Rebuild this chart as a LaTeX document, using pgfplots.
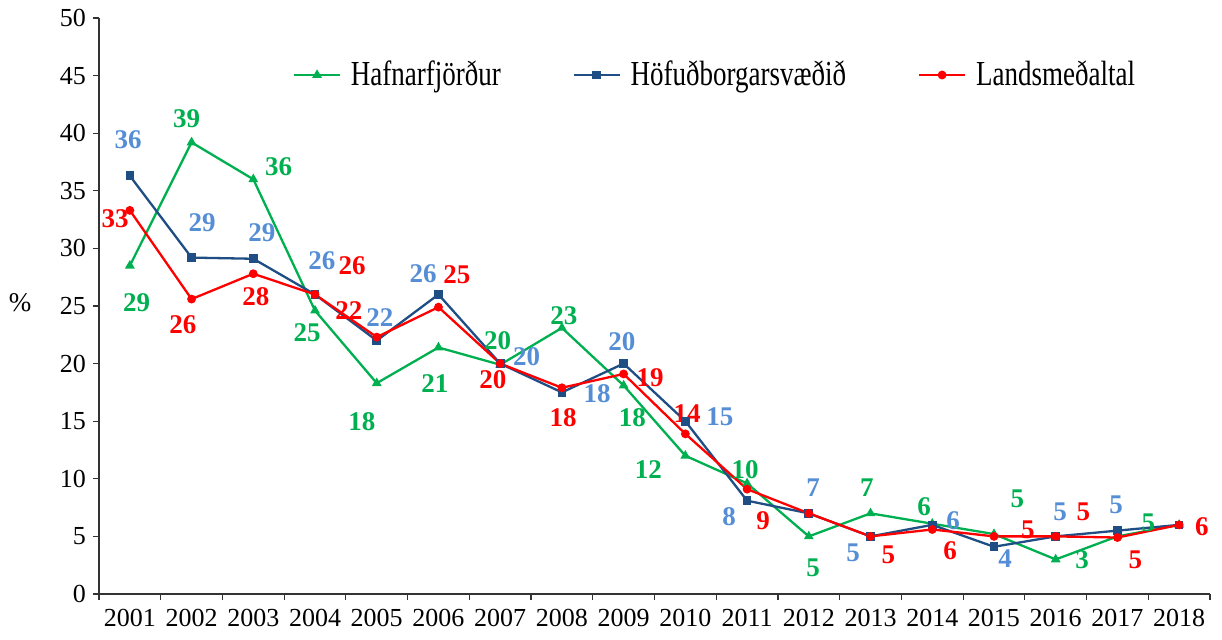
\documentclass[border=0pt]{standalone}
\usepackage{fontspec}
\setmainfont{Liberation Serif}
\usepackage{pgfplots}
\pgfplotsset{compat=1.18}

\definecolor{hafgreen}{HTML}{00B050}
\definecolor{hofblue}{HTML}{1F4E84}
\definecolor{hoflab}{HTML}{558ED5}
\definecolor{landred}{HTML}{FF0000}

\begin{document}
\begin{tikzpicture}
\begin{axis}[
    scale only axis,
    width=555.5pt, height=288pt,
    anchor=south west, at={(0,0)},
    xmin=0.5, xmax=18.5,
    ymin=0, ymax=50,
    axis lines*=left,
    axis line style={black!80, line width=0.6pt},
    tick align=outside,
    tick style={black!80, line width=0.6pt},
    major tick length=3pt, minor tick length=3pt,
    xtick={1,...,18},
    xticklabels={2001,2002,2003,2004,2005,2006,2007,2008,2009,2010,2011,2012,2013,2014,2015,2016,2017,2018},
    major x tick style={draw=none},
    minor xtick={0.5,1.5,...,18.5},
    ytick={0,5,...,50},
    /pgf/number format/assume math mode=true,
    ticklabel style={font=\fontsize{13}{15}\selectfont},
    xticklabel style={yshift=-1pt},
    ylabel={\%},
    every axis y label/.style={at={(axis description cs:-0.071,0.505)}, anchor=center,
        font=\fontsize{13.5}{15}\selectfont},
    clip=false,
    legend columns=3,
    legend style={draw=none, fill=none, at={(axis description cs:0.169,0.901)}, anchor=west,
        font=\fontsize{13.5}{15}\selectfont,
        /tikz/every odd column/.append style={column sep=3pt},
        /tikz/every even column/.append style={column sep=34pt}},
    legend image code/.code={
        \draw[#1, mark repeat=2, mark phase=2] plot coordinates {(0cm,0cm) (0.4cm,0cm) (0.8cm,0cm)};
    },
]
\addplot[hafgreen, line width=1.15pt, mark=triangle*, mark size=1.7pt] coordinates {
(1,28.5) (2,39.2) (3,36.0) (4,24.6) (5,18.3) (6,21.4) (7,19.9) (8,23.1) (9,18.1)
(10,12.0) (11,9.6) (12,5.0) (13,7.0) (14,6.1) (15,5.2) (16,3.0) (17,5.0) (18,6.0)
};
\addlegendentry{\scalebox{1}[1.3]{Hafnarfjörður}}
\addplot[hofblue, line width=1.15pt, mark=square*, mark size=1.6pt] coordinates {
(1,36.3) (2,29.2) (3,29.1) (4,26.0) (5,22.0) (6,26.0) (7,20.0) (8,17.5) (9,20.0)
(10,15.0) (11,8.1) (12,7.0) (13,5.0) (14,6.0) (15,4.1) (16,5.0) (17,5.5) (18,6.0)
};
\addlegendentry{\scalebox{1}[1.3]{Höfuðborgarsvæðið}}
\addplot[landred, line width=1.15pt, mark=*, mark size=1.6pt] coordinates {
(1,33.3) (2,25.6) (3,27.8) (4,26.0) (5,22.3) (6,24.9) (7,20.0) (8,17.9) (9,19.1)
(10,13.9) (11,9.1) (12,7.0) (13,5.0) (14,5.6) (15,5.0) (16,5.0) (17,4.9) (18,6.0)
};
\addlegendentry{\scalebox{1}[1.3]{Landsmeðaltal}}

% data labels, placed where the reference has them
\begin{scope}[font=\fontsize{13.5}{15}\selectfont\bfseries, text=hafgreen]
\node at (axis cs:1.11,25.3) {29};
\node at (axis cs:1.92,41.3) {39};
\node at (axis cs:3.41,37.1) {36};
\node at (axis cs:3.87,22.7) {25};
\node at (axis cs:4.76,15.0) {18};
\node at (axis cs:5.94,18.3) {21};
\node at (axis cs:6.96,22.0) {20};
\node at (axis cs:8.03,24.2) {23};
\node at (axis cs:9.14,15.3) {18};
\node at (axis cs:9.40,10.8) {12};
\node at (axis cs:10.97,10.8) {10};
\node at (axis cs:12.07,2.3) {5};
\node at (axis cs:12.94,9.2) {7};
\node at (axis cs:13.87,7.6) {6};
\node at (axis cs:15.38,8.3) {5};
\node at (axis cs:16.43,3.0) {3};
\node at (axis cs:17.50,6.2) {5};
\end{scope}
\begin{scope}[font=\fontsize{13.5}{15}\selectfont\bfseries, text=hoflab]
\node at (axis cs:0.97,39.4) {36};
\node at (axis cs:2.17,32.2) {29};
\node at (axis cs:3.14,31.4) {29};
\node at (axis cs:4.11,28.9) {26};
\node at (axis cs:5.05,24.0) {22};
\node at (axis cs:5.75,27.8) {26};
\node at (axis cs:7.43,20.6) {20};
\node at (axis cs:8.57,17.4) {18};
\node at (axis cs:8.97,21.9) {20};
\node at (axis cs:10.56,15.4) {15};
\node at (axis cs:10.71,6.7) {8};
\node at (axis cs:12.07,9.2) {7};
\node at (axis cs:12.72,3.6) {5};
\node at (axis cs:14.34,6.4) {6};
\node at (axis cs:15.18,3.1) {4};
\node at (axis cs:16.07,7.1) {5};
\node at (axis cs:16.98,7.7) {5};
\end{scope}
\begin{scope}[font=\fontsize{13.5}{15}\selectfont\bfseries, text=landred]
\node at (axis cs:0.76,32.6) {33};
\node at (axis cs:1.86,23.4) {26};
\node at (axis cs:3.04,25.8) {28};
\node at (axis cs:4.60,28.5) {26};
\node at (axis cs:4.55,24.6) {22};
\node at (axis cs:6.30,27.7) {25};
\node at (axis cs:6.88,18.6) {20};
\node at (axis cs:8.02,15.3) {18};
\node at (axis cs:9.43,18.8) {19};
\node at (axis cs:10.03,15.7) {14};
\node at (axis cs:11.26,6.4) {9};
\node at (axis cs:13.29,3.4) {5};
\node at (axis cs:14.29,3.8) {6};
\node at (axis cs:15.55,5.6) {5};
\node at (axis cs:16.45,7.1) {5};
\node at (axis cs:17.29,3.0) {5};
\node at (axis cs:18.37,5.8) {6};
\end{scope}
\end{axis}
\pgfresetboundingbox
\path (-49.5pt,-23pt) rectangle (561.5pt,297pt);
\end{tikzpicture}
\end{document}
